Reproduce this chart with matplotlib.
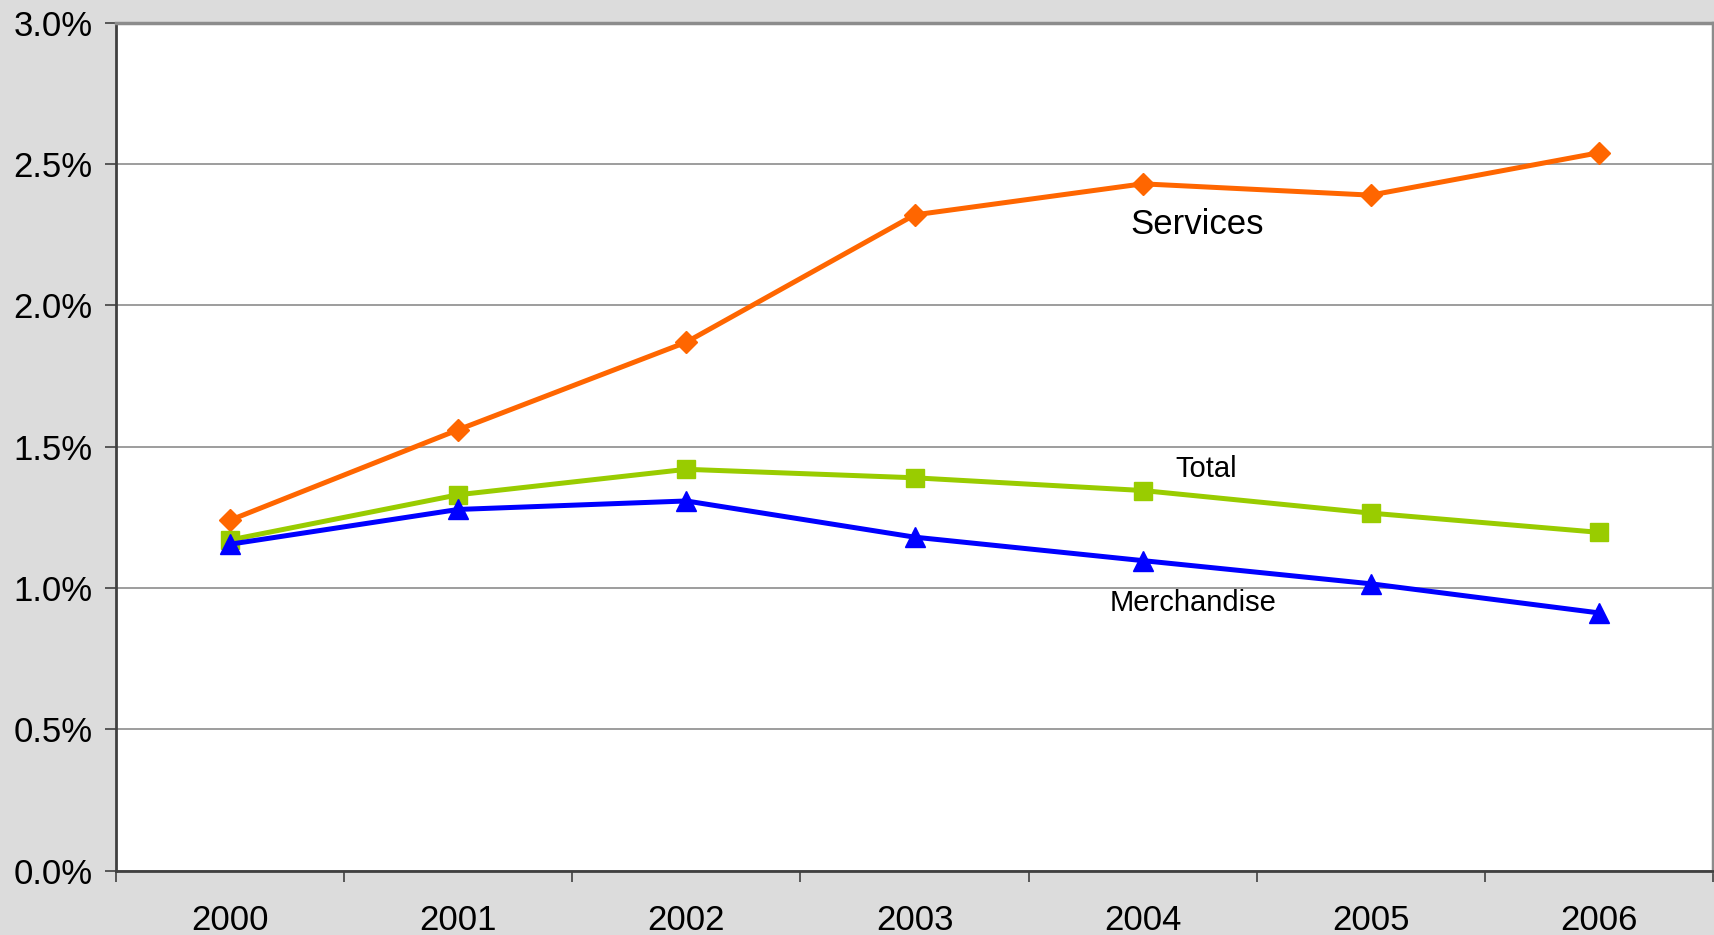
import numpy as np
import matplotlib
matplotlib.use("Agg")
import matplotlib.pyplot as plt
import matplotlib.ticker as mticker

# ---------------------------------------------------------------------------
# Data (percent)
# ---------------------------------------------------------------------------
years = ["2000", "2001", "2002", "2003", "2004", "2005", "2006"]
services = [1.24, 1.56, 1.87, 2.32, 2.43, 2.39, 2.54]
total = [1.17, 1.33, 1.42, 1.39, 1.345, 1.265, 1.197]
merchandise = [1.155, 1.278, 1.308, 1.18, 1.097, 1.015, 0.912]

plt.rcParams["font.family"] = ["Liberation Sans", "DejaVu Sans"]

BG = "#DCDCDC"
fig = plt.figure(figsize=(17.14, 9.35), dpi=100, facecolor=BG)
ax = fig.add_axes([0.0677, 0.0688, 0.9317, 0.9069])
ax.set_facecolor("white")

x = np.arange(len(years))
ax.plot(x, services, color="#FF6600", linewidth=3.6, marker="D",
        markersize=11, zorder=3)
ax.plot(x, total, color="#99CC00", linewidth=3.6, marker="s",
        markersize=13, zorder=3)
ax.plot(x, merchandise, color="#0000FF", linewidth=3.6, marker="^",
        markersize=14, zorder=4)

# series labels
ax.text(4.24, 2.285, "Services", fontsize=25, ha="center", va="center")
ax.text(4.28, 1.42, "Total", fontsize=21, ha="center", va="center")
ax.text(4.22, 0.948, "Merchandise", fontsize=21, ha="center", va="center")

# y axis
ax.set_ylim(0, 3.0)
ax.yaxis.set_major_locator(mticker.MultipleLocator(0.5))
ax.yaxis.set_major_formatter(mticker.FuncFormatter(lambda v, p: f"{v:.1f}%"))
ax.grid(axis="y", color="#8C8C8C", linewidth=1.2)
ax.set_axisbelow(True)
ax.tick_params(axis="y", length=8, width=1.2, color="#404040",
               labelsize=25, pad=9)

# x axis: ticks at category boundaries, labels at centres
ax.set_xlim(-0.5, 6.5)
ax.set_xticks(np.arange(-0.5, 7.0, 1.0))
ax.set_xticklabels([])
ax.set_xticks(x, minor=True)
ax.set_xticklabels(years, minor=True)
ax.tick_params(axis="x", which="major", length=8, width=1.2, color="#404040")
ax.tick_params(axis="x", which="minor", length=0, labelsize=25, pad=24)

for side in ["left", "bottom"]:
    ax.spines[side].set_color("#404040")
    ax.spines[side].set_linewidth(2)
for side in ["top", "right"]:
    ax.spines[side].set_color("#8C8C8C")
    ax.spines[side].set_linewidth(2.5)

fig.savefig("out.png", dpi=100, facecolor=BG)
